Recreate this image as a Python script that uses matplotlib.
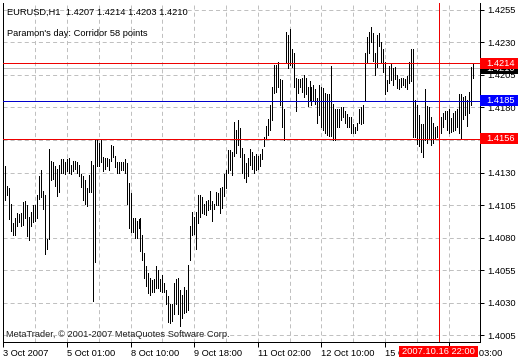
import matplotlib
matplotlib.use("Agg")
import matplotlib.pyplot as plt
from matplotlib.patches import Rectangle
from matplotlib.transforms import blended_transform_factory as blend

# ---- data (EURUSD H1 bar highs / lows) ----
highs = [
    1.4153, 1.4135, 1.4120, 1.4118, 1.4106, 1.4091, 1.4095, 1.4099, 1.4098, 1.4099,
    1.4107, 1.4108, 1.4105, 1.4096, 1.4100, 1.4105, 1.4105, 1.4113, 1.4127, 1.4132,
    1.4116, 1.4113, 1.4079, 1.4148, 1.4139, 1.4138, 1.4135, 1.4133, 1.4136, 1.4140,
    1.4140, 1.4138, 1.4140, 1.4141, 1.4136, 1.4139, 1.4139, 1.4138, 1.4136, 1.4129,
    1.4127, 1.4124, 1.4118, 1.4128, 1.4139, 1.4136, 1.4156, 1.4156, 1.4153, 1.4155,
    1.4142, 1.4141, 1.4141, 1.4140, 1.4151, 1.4150, 1.4143, 1.4138, 1.4138, 1.4138,
    1.4138, 1.4140, 1.4137, 1.4122, 1.4114, 1.4095, 1.4095, 1.4093, 1.4094, 1.4095,
    1.4082, 1.4068, 1.4058, 1.4053, 1.4049, 1.4047, 1.4048, 1.4058, 1.4055, 1.4048,
    1.4051, 1.4045, 1.4040, 1.4035, 1.4029, 1.4029, 1.4045, 1.4048, 1.4049, 1.4040,
    1.4036, 1.4042, 1.4040, 1.4059, 1.4089, 1.4100, 1.4096, 1.4100, 1.4113, 1.4113,
    1.4111, 1.4106, 1.4108, 1.4109, 1.4116, 1.4108, 1.4106, 1.4115, 1.4114, 1.4118,
    1.4119, 1.4129, 1.4132, 1.4147, 1.4147, 1.4146, 1.4169, 1.4163, 1.4170, 1.4164,
    1.4149, 1.4144, 1.4137, 1.4141, 1.4148, 1.4146, 1.4143, 1.4144, 1.4143, 1.4144,
    1.4148, 1.4157, 1.4166, 1.4171, 1.4182, 1.4196, 1.4213, 1.4213, 1.4215, 1.4202,
    1.4201, 1.4179, 1.4238, 1.4236, 1.4240, 1.4225, 1.4222, 1.4203, 1.4202, 1.4202,
    1.4203, 1.4205, 1.4203, 1.4196, 1.4200, 1.4196, 1.4197, 1.4194, 1.4187, 1.4197,
    1.4196, 1.4195, 1.4191, 1.4190, 1.4190, 1.4212, 1.4183, 1.4179, 1.4179, 1.4179,
    1.4180, 1.4180, 1.4177, 1.4175, 1.4173, 1.4173, 1.4167, 1.4165, 1.4168, 1.4179,
    1.4180, 1.4182, 1.4222, 1.4234, 1.4238, 1.4242, 1.4237, 1.4222, 1.4236, 1.4237,
    1.4230, 1.4225, 1.4215, 1.4201, 1.4212, 1.4214, 1.4210, 1.4211, 1.4205, 1.4202,
    1.4203, 1.4203, 1.4202, 1.4204, 1.4215, 1.4225, 1.4225, 1.4186, 1.4182, 1.4174,
    1.4167, 1.4167, 1.4194, 1.4181, 1.4180, 1.4173, 1.4168, 1.4165, 1.4166, 1.4165,
    1.4173, 1.4176, 1.4177, 1.4177, 1.4179, 1.4172, 1.4176, 1.4177, 1.4179, 1.4190,
    1.4190, 1.4188, 1.4189, 1.4186, 1.4192, 1.4211, 1.4214,
]
lows = [
    1.4130, 1.4109, 1.4113, 1.4094, 1.4085, 1.4082, 1.4082, 1.4089, 1.4092, 1.4089,
    1.4090, 1.4095, 1.4081, 1.4078, 1.4089, 1.4092, 1.4093, 1.4095, 1.4110, 1.4111,
    1.4102, 1.4067, 1.4071, 1.4079, 1.4124, 1.4125, 1.4120, 1.4112, 1.4115, 1.4130,
    1.4130, 1.4129, 1.4131, 1.4130, 1.4129, 1.4131, 1.4133, 1.4130, 1.4127, 1.4119,
    1.4109, 1.4106, 1.4104, 1.4115, 1.4115, 1.4031, 1.4061, 1.4135, 1.4135, 1.4138,
    1.4131, 1.4133, 1.4135, 1.4132, 1.4139, 1.4142, 1.4134, 1.4130, 1.4130, 1.4132,
    1.4132, 1.4130, 1.4106, 1.4087, 1.4084, 1.4084, 1.4080, 1.4080, 1.4087, 1.4070,
    1.4063, 1.4049, 1.4043, 1.4037, 1.4036, 1.4038, 1.4038, 1.4041, 1.4041, 1.4039,
    1.4038, 1.4038, 1.4029, 1.4015, 1.4014, 1.4016, 1.4021, 1.4029, 1.4021, 1.4012,
    1.4018, 1.4022, 1.4023, 1.4024, 1.4063, 1.4082, 1.4083, 1.4071, 1.4091, 1.4096,
    1.4099, 1.4098, 1.4097, 1.4101, 1.4102, 1.4093, 1.4102, 1.4105, 1.4105, 1.4099,
    1.4103, 1.4112, 1.4118, 1.4130, 1.4132, 1.4128, 1.4143, 1.4145, 1.4151, 1.4142,
    1.4130, 1.4126, 1.4123, 1.4127, 1.4136, 1.4133, 1.4130, 1.4132, 1.4133, 1.4135,
    1.4140, 1.4150, 1.4156, 1.4159, 1.4163, 1.4170, 1.4191, 1.4192, 1.4196, 1.4182,
    1.4165, 1.4155, 1.4214, 1.4210, 1.4213, 1.4211, 1.4196, 1.4177, 1.4191, 1.4196,
    1.4192, 1.4188, 1.4190, 1.4181, 1.4185, 1.4182, 1.4186, 1.4183, 1.4168, 1.4174,
    1.4165, 1.4163, 1.4160, 1.4159, 1.4158, 1.4158, 1.4155, 1.4155, 1.4165, 1.4165,
    1.4170, 1.4173, 1.4168, 1.4165, 1.4165, 1.4160, 1.4160, 1.4160, 1.4163, 1.4168,
    1.4167, 1.4168, 1.4185, 1.4214, 1.4222, 1.4230, 1.4216, 1.4205, 1.4211, 1.4227,
    1.4214, 1.4207, 1.4190, 1.4193, 1.4199, 1.4201, 1.4197, 1.4202, 1.4195, 1.4194,
    1.4196, 1.4197, 1.4196, 1.4194, 1.4199, 1.4200, 1.4157, 1.4157, 1.4152, 1.4150,
    1.4146, 1.4142, 1.4155, 1.4153, 1.4156, 1.4151, 1.4153, 1.4156, 1.4157, 1.4157,
    1.4160, 1.4165, 1.4171, 1.4163, 1.4160, 1.4161, 1.4162, 1.4163, 1.4165, 1.4160,
    1.4156, 1.4171, 1.4174, 1.4166, 1.4176, 1.4182, 1.4203,
]

time_tick_bars = [0, 32, 64, 96, 128, 160, 192, 224]
time_tick_labels = ["3 Oct 2007", "5 Oct 01:00", "8 Oct 10:00", "9 Oct 18:00",
                    "11 Oct 02:00", "12 Oct 10:00", "15 Oct 18:00", "17 Oct 03:00"]
price_ticks = [1.4005, 1.4030, 1.4055, 1.4080, 1.4105, 1.4130, 1.4155,
               1.4180, 1.4205, 1.4230, 1.4255]
price_tick_labels = ["1.4005", "1.4030", "1.4055", "1.4080", "1.4105", "1.4130",
                     "1.4155", "1.4180", "1.4205", "1.4230", "1.4255"]

symbol_header = "EURUSD,H1  1.4207 1.4214 1.4203 1.4210"
indicator_text = "Paramon's day: Corridor 58 points"
copyright_text = "MetaTrader, \u00a9 2001-2007 MetaQuotes Software Corp."

corridor_high = 1.4214
corridor_mid = 1.4185
corridor_low = 1.4156
bid_price = 1.4210
cursor_bar = 219
cursor_label = "2007.10.16 22:00"

# ---- figure ----
W, H = 520, 360
DPI = 100
FONT = "Liberation Sans"
FS = 6.7
plt.rcParams["font.family"] = [FONT, "DejaVu Sans"]
plt.rcParams["lines.scale_dashes"] = False

fig = plt.figure(figsize=(W / DPI, H / DPI), dpi=DPI, facecolor="white")
L, R, T, B = 2.5, 480.5, 3.0, 342.0
ax = fig.add_axes([L / W, 1 - B / H, (R - L) / W, (B - T) / H])
ax.set_facecolor("white")

px = 0.72  # one pixel in points
ax.set_xlim(-0.4, 238.6)
ax.set_ylim(1.399962, 1.426038)

# grid
dash = (0, (2.9, 2.2))
ax.set_yticks(price_ticks)
ax.set_yticklabels(price_tick_labels)
ax.set_xticks(time_tick_bars)
ax.set_xticklabels(time_tick_labels, ha="left")
ax.set_xticks([b + 16 for b in time_tick_bars], minor=True)
ax.grid(True, which="both", color="#c0c0c0", lw=px, linestyle=dash)
ax.set_axisbelow(True)

ax.yaxis.tick_right()
ax.tick_params(axis="y", which="major", direction="out", length=3, width=px,
               labelsize=FS, pad=2, colors="black")
ax.tick_params(axis="x", which="major", direction="out", length=3.5, width=px,
               labelsize=FS, pad=1.5, colors="black")
ax.tick_params(axis="x", which="minor", length=0)

for side in ("left", "right", "bottom"):
    ax.spines[side].set_linewidth(px)
    ax.spines[side].set_color("black")
ax.spines["top"].set_visible(False)

# bars
idx = list(range(len(highs)))
ax.vlines(idx, lows, highs, colors="black", lw=px, antialiased=False, zorder=3)

# level lines
ax.axhline(bid_price, color="#c0c0c0", lw=px, antialiased=False, zorder=2.5)
ax.axhline(corridor_high, color="#ee0000", lw=px, antialiased=False, zorder=4)
ax.axhline(corridor_mid, color="#0000cc", lw=px, antialiased=False, zorder=4)
ax.axhline(corridor_low, color="#ee0000", lw=px, antialiased=False, zorder=4)
ax.axvline(cursor_bar, color="#ee0000", lw=px, antialiased=False, zorder=4)

# price tags on the right scale
axw = R - L
axh = B - T
ppu = axh / (1.426038 - 1.399962)  # pixels per price unit
tr_right = blend(ax.transAxes, ax.transData)


def price_tag(price, face, txt, z):
    h = 11.0 / ppu
    ax.add_patch(Rectangle((1.0, price - h / 2), 37.5 / axw, h, transform=tr_right,
                           facecolor=face, edgecolor="none", clip_on=False, zorder=z))
    ax.text(1.0 + 5.5 / axw, price, txt, transform=tr_right, color="white",
            fontsize=FS, va="center", ha="left", clip_on=False, zorder=z + 0.1)


price_tag(bid_price, "black", "%.4f" % bid_price, 10)
price_tag(corridor_high, "#ff0000", "%.4f" % corridor_high, 11)
price_tag(corridor_mid, "#0000ff", "%.4f" % corridor_mid, 11)
price_tag(corridor_low, "#ff0000", "%.4f" % corridor_low, 11)

# cursor time tag (box is 79 px wide; one bar = 2 px)
tr_bottom = blend(ax.transData, ax.transAxes)
half = 79.0 / 2.0 / 2.0  # in bars
ax.add_patch(Rectangle((cursor_bar - half, -(356.5 - B) / axh), 2 * half, 10.5 / axh,
                       transform=tr_bottom, facecolor="#ff0000", edgecolor="none",
                       clip_on=False, zorder=11))
ax.text(cursor_bar, -(351.3 - B) / axh, cursor_label, transform=tr_bottom,
        color="white", fontsize=FS, ha="center", va="center", clip_on=False, zorder=12)

# texts
fig.text(7 / W, 1 - 12.5 / H, symbol_header, fontsize=FS, color="black", va="center", ha="left")
fig.text(7 / W, 1 - 33 / H, indicator_text, fontsize=FS, color="black", va="center", ha="left")
fig.text(6 / W, 1 - 334.5 / H, copyright_text, fontsize=FS, color="#202020", va="center", ha="left")

fig.savefig("out.png", dpi=DPI, facecolor="white")
